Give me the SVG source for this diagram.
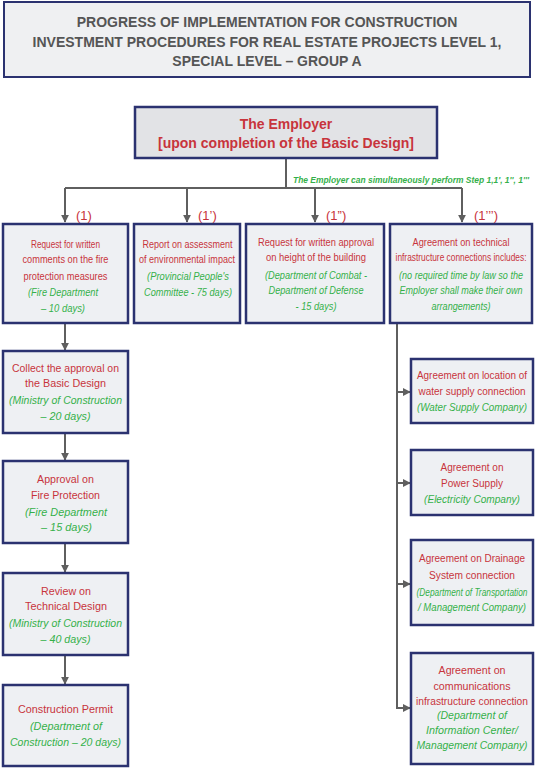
<svg xmlns="http://www.w3.org/2000/svg" width="535" height="768" viewBox="0 0 535 768">
<defs>
<marker id="ah" viewBox="0 0 10 10" refX="9" refY="5" markerWidth="4" markerHeight="4" orient="auto" markerUnits="strokeWidth">
<path d="M0,0 L10,5 L0,10 z" fill="#5f5f5f"/>
</marker>
<style>
.box{fill:#eef0f3;stroke:#2b3270;stroke-width:2.5}
.emp{fill:#e2e3e6;stroke:#2b3270;stroke-width:2.5}
.t{font-family:"Liberation Sans",Arial,sans-serif;font-size:11.5px;text-anchor:middle}
.r{fill:#c8343c}
.g{fill:#35b04a;font-style:italic}
.title{font-family:"Liberation Sans",Arial,sans-serif;font-size:14px;font-weight:bold;fill:#555;text-anchor:middle}
.eh{font-family:"Liberation Sans",Arial,sans-serif;font-size:14px;font-weight:bold;fill:#c8343c;text-anchor:middle}
.lbl{font-family:"Liberation Sans",Arial,sans-serif;font-size:13px;fill:#c8343c}
.note{font-family:"Liberation Sans",Arial,sans-serif;font-size:9.5px;font-weight:bold;font-style:italic;fill:#35b04a}
.c{fill:none;stroke:#5f5f5f;stroke-width:2}
</style>
</defs>
<rect width="535" height="768" fill="#ffffff"/>

<g id="title">
<rect x="4" y="2" width="526" height="75" fill="#eff0f2" stroke="#2b3270" stroke-width="2"/>
<text class="title" x="267" y="27">PROGRESS OF IMPLEMENTATION FOR CONSTRUCTION</text>
<text class="title" x="267" y="47">INVESTMENT PROCEDURES FOR REAL ESTATE PROJECTS LEVEL 1,</text>
<text class="title" x="267" y="66">SPECIAL LEVEL – GROUP A</text>
</g>

<g id="connectors">
<path class="c" d="M286,158 V188"/>
<path class="c" d="M65,188 H462"/>
<path class="c" d="M65,188 V222" marker-end="url(#ah)"/>
<path class="c" d="M187,188 V222" marker-end="url(#ah)"/>
<path class="c" d="M315,188 V222" marker-end="url(#ah)"/>
<path class="c" d="M462,188 V222" marker-end="url(#ah)"/>
<path class="c" d="M65,324 V350" marker-end="url(#ah)"/>
<path class="c" d="M65,434 V460" marker-end="url(#ah)"/>
<path class="c" d="M65,544 V572" marker-end="url(#ah)"/>
<path class="c" d="M65,656 V684" marker-end="url(#ah)"/>
<path class="c" d="M397,324 V708 H410" marker-end="url(#ah)"/>
<path class="c" d="M397,392 H410" marker-end="url(#ah)"/>
<path class="c" d="M397,483 H410" marker-end="url(#ah)"/>
<path class="c" d="M397,584 H410" marker-end="url(#ah)"/>
<text class="note" transform="translate(293,183) scale(0.85,1)" x="0" y="0" textLength="277.6" lengthAdjust="spacingAndGlyphs">The Employer can simultaneously perform Step 1,1', 1'', 1'''</text>
<text class="lbl" x="76" y="220">(1)</text>
<text class="lbl" x="198" y="220">(1’)</text>
<text class="lbl" x="326" y="220">(1”)</text>
<text class="lbl" x="474" y="220">(1’’’)</text>
</g>

<g id="employer">
<rect class="emp" x="135" y="107" width="302" height="51"/>
<text class="eh" x="286" y="129">The Employer</text>
<text class="eh" x="286" y="148">[upon completion of the Basic Design]</text>
</g>

<g id="step1">
<rect class="box" x="3" y="224" width="125" height="99"/>
<text class="t r" transform="translate(65.5,248) scale(0.71,1)" textLength="97.2" lengthAdjust="spacingAndGlyphs">Request for written</text>
<text class="t r" transform="translate(65.5,263) scale(0.71,1)" textLength="121.1" lengthAdjust="spacingAndGlyphs">comments on the fire</text>
<text class="t r" transform="translate(65.5,280) scale(0.71,1)" textLength="118.3" lengthAdjust="spacingAndGlyphs">protection measures</text>
<text class="t g" transform="translate(63,296) scale(0.71,1)" textLength="98.6" lengthAdjust="spacingAndGlyphs">(Fire Department</text>
<text class="t g" transform="translate(63,312) scale(0.71,1)" textLength="62" lengthAdjust="spacingAndGlyphs">– 10 days)</text>
</g>

<g id="step1a">
<rect class="box" x="134" y="224" width="106" height="99"/>
<text class="t r" transform="translate(187.5,248) scale(0.76,1)" textLength="118.4" lengthAdjust="spacingAndGlyphs">Report on assessment</text>
<text class="t r" transform="translate(187,263) scale(0.76,1)" textLength="126.3" lengthAdjust="spacingAndGlyphs">of environmental impact</text>
<text class="t g" transform="translate(188,280) scale(0.76,1)" textLength="107.9" lengthAdjust="spacingAndGlyphs">(Provincial People's</text>
<text class="t g" transform="translate(188,296) scale(0.76,1)" textLength="115.8" lengthAdjust="spacingAndGlyphs">Committee - 75 days)</text>
</g>

<g id="step1b">
<rect class="box" x="246" y="224" width="138" height="99"/>
<text class="t r" transform="translate(316,246) scale(0.78,1)" textLength="148.7" lengthAdjust="spacingAndGlyphs">Request for written approval</text>
<text class="t r" transform="translate(316,261) scale(0.78,1)" textLength="128.2" lengthAdjust="spacingAndGlyphs">on height of the building</text>
<text class="t g" transform="translate(316,279) scale(0.78,1)" textLength="130.8" lengthAdjust="spacingAndGlyphs">(Department of Combat -</text>
<text class="t g" transform="translate(316,294) scale(0.78,1)" textLength="121.8" lengthAdjust="spacingAndGlyphs">Department of Defense</text>
<text class="t g" transform="translate(316,310) scale(0.78,1)" textLength="52.6" lengthAdjust="spacingAndGlyphs">- 15 days)</text>
</g>

<g id="step1c">
<rect class="box" x="390" y="224" width="142" height="99"/>
<text class="t r" transform="translate(461,246) scale(0.72,1)" textLength="134.7" lengthAdjust="spacingAndGlyphs">Agreement on technical</text>
<text class="t r" transform="translate(461,261) scale(0.72,1)" textLength="181.9" lengthAdjust="spacingAndGlyphs">infrastructure connections includes:</text>
<text class="t g" transform="translate(461,279) scale(0.72,1)" textLength="172.2" lengthAdjust="spacingAndGlyphs">(no required time by law so the</text>
<text class="t g" transform="translate(461,294) scale(0.72,1)" textLength="170.8" lengthAdjust="spacingAndGlyphs">Employer shall make their own</text>
<text class="t g" transform="translate(461,310) scale(0.72,1)" textLength="81.9" lengthAdjust="spacingAndGlyphs">arrangements)</text>
</g>

<g id="basic-design">
<rect class="box" x="3" y="351" width="125" height="82"/>
<text class="t r" transform="translate(65.5,372) scale(0.88,1)" textLength="121.6" lengthAdjust="spacingAndGlyphs">Collect the approval on</text>
<text class="t r" transform="translate(65.5,387) scale(0.88,1)" textLength="92" lengthAdjust="spacingAndGlyphs">the Basic Design</text>
<text class="t g" transform="translate(65.5,404) scale(0.88,1)" textLength="128.4" lengthAdjust="spacingAndGlyphs">(Ministry of Construction</text>
<text class="t g" transform="translate(65.5,420) scale(0.88,1)" textLength="56.8" lengthAdjust="spacingAndGlyphs">– 20 days)</text>
</g>

<g id="fire-approval">
<rect class="box" x="3" y="461" width="125" height="82"/>
<text class="t r" transform="translate(65.5,483) scale(0.9,1)" textLength="63.3" lengthAdjust="spacingAndGlyphs">Approval on</text>
<text class="t r" transform="translate(65.5,499) scale(0.9,1)" textLength="76.7" lengthAdjust="spacingAndGlyphs">Fire Protection</text>
<text class="t g" transform="translate(66,516) scale(0.9,1)" textLength="91.1" lengthAdjust="spacingAndGlyphs">(Fire Department</text>
<text class="t g" transform="translate(66.5,531) scale(0.9,1)" textLength="56.7" lengthAdjust="spacingAndGlyphs">– 15 days)</text>
</g>

<g id="technical-review">
<rect class="box" x="3" y="573" width="125" height="82"/>
<text class="t r" transform="translate(66,595) scale(0.88,1)" textLength="56.8" lengthAdjust="spacingAndGlyphs">Review on</text>
<text class="t r" transform="translate(66,610) scale(0.88,1)" textLength="93.2" lengthAdjust="spacingAndGlyphs">Technical Design</text>
<text class="t g" transform="translate(65.5,627) scale(0.88,1)" textLength="128.4" lengthAdjust="spacingAndGlyphs">(Ministry of Construction</text>
<text class="t g" transform="translate(65.5,643) scale(0.88,1)" textLength="56.8" lengthAdjust="spacingAndGlyphs">– 40 days)</text>
</g>

<g id="permit">
<rect class="box" x="3" y="685" width="125" height="81"/>
<text class="t r" transform="translate(65.5,713) scale(0.9,1)" textLength="105.6" lengthAdjust="spacingAndGlyphs">Construction Permit</text>
<text class="t g" transform="translate(66,730) scale(0.9,1)" textLength="80" lengthAdjust="spacingAndGlyphs">(Department of</text>
<text class="t g" transform="translate(65.5,746) scale(0.9,1)" textLength="123.3" lengthAdjust="spacingAndGlyphs">Construction – 20 days)</text>
</g>

<g id="water">
<rect class="box" x="411" y="359" width="122" height="64"/>
<text class="t r" transform="translate(472,379) scale(0.84,1)" textLength="131" lengthAdjust="spacingAndGlyphs">Agreement on location of</text>
<text class="t r" transform="translate(472,395) scale(0.84,1)" textLength="127.4" lengthAdjust="spacingAndGlyphs">water supply connection</text>
<text class="t g" transform="translate(472,411) scale(0.84,1)" textLength="131" lengthAdjust="spacingAndGlyphs">(Water Supply Company)</text>
</g>

<g id="power">
<rect class="box" x="411" y="450" width="122" height="65"/>
<text class="t r" transform="translate(472,471) scale(0.85,1)" textLength="74.1" lengthAdjust="spacingAndGlyphs">Agreement on</text>
<text class="t r" transform="translate(472,487) scale(0.85,1)" textLength="72.9" lengthAdjust="spacingAndGlyphs">Power Supply</text>
<text class="t g" transform="translate(472,503) scale(0.85,1)" textLength="112.9" lengthAdjust="spacingAndGlyphs">(Electricity Company)</text>
</g>

<g id="drainage">
<rect class="box" x="411" y="540" width="122" height="85"/>
<text class="t r" transform="translate(472,562) scale(0.71,1)" textLength="149.3" lengthAdjust="spacingAndGlyphs">Agreement on Drainage</text>
<text class="t r" transform="translate(472,579) scale(0.71,1)" textLength="121.1" lengthAdjust="spacingAndGlyphs">System connection</text>
<text class="t g" transform="translate(472,596) scale(0.71,1)" textLength="156.3" lengthAdjust="spacingAndGlyphs">(Department of Transportation</text>
<text class="t g" transform="translate(472,611) scale(0.71,1)" textLength="152.1" lengthAdjust="spacingAndGlyphs">/ Management Company)</text>
</g>

<g id="communications">
<rect class="box" x="411" y="653" width="122" height="111"/>
<text class="t r" transform="translate(472,674) scale(0.86,1)" textLength="77.9" lengthAdjust="spacingAndGlyphs">Agreement on</text>
<text class="t r" transform="translate(472,690) scale(0.86,1)" textLength="89.5" lengthAdjust="spacingAndGlyphs">communications</text>
<text class="t r" transform="translate(472,705) scale(0.86,1)" textLength="130.2" lengthAdjust="spacingAndGlyphs">infrastructure connection</text>
<text class="t g" transform="translate(472,719) scale(0.86,1)" textLength="81.4" lengthAdjust="spacingAndGlyphs">(Department of</text>
<text class="t g" transform="translate(472,734) scale(0.86,1)" textLength="107" lengthAdjust="spacingAndGlyphs">Information Center/</text>
<text class="t g" transform="translate(472,749) scale(0.86,1)" textLength="129.1" lengthAdjust="spacingAndGlyphs">Management Company)</text>
</g>
</svg>
